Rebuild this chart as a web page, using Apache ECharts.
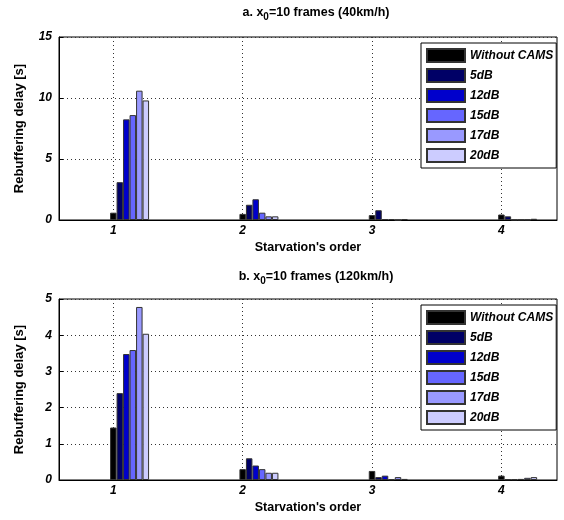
<!DOCTYPE html>
<html><head><meta charset="utf-8">
<script src="https://cdn.jsdelivr.net/npm/echarts@6/dist/echarts.min.js"></script>
<style>html,body{margin:0;padding:0;background:#fff}#c{width:564px;height:520px}</style>
</head><body><div id="c"></div>
<script>
// Starvation's order (x categories)
const orders = [1, 2, 3, 4];
const tickLabels = ['1', '2', '3', '4'];
const seriesNames = ['Without CAMS', '5dB', '12dB', '15dB', '17dB', '20dB'];

// a. x0=10 frames (40km/h)
const noCams40 = [0.6, 0.5, 0.4, 0.45];
const db5_40   = [3.1, 1.25, 0.8, 0.3];
const db12_40  = [8.25, 1.7, 0.08, 0.02];
const db15_40  = [8.6, 0.6, 0.08, 0.02];
const db17_40  = [10.6, 0.3, 0.0, 0.02];
const db20_40  = [9.8, 0.3, 0.08, 0.1];

// b. x0=10 frames (120km/h)
const noCams120 = [1.45, 0.3, 0.25, 0.12];
const db5_120   = [2.4, 0.6, 0.08, 0.02];
const db12_120  = [3.48, 0.4, 0.12, 0.02];
const db15_120  = [3.59, 0.3, 0.02, 0.03];
const db17_120  = [4.78, 0.2, 0.08, 0.06];
const db20_120  = [4.04, 0.2, 0.03, 0.08];

const colors = ['#000000', '#000066', '#0000cc', '#6666ff', '#9999ff', '#ccccff'];
const FONT = 'Liberation Sans, Arial, Helvetica, sans-serif';

const panels = [
  { title: '{t|a. x}{s|0}{t|=10 frames (40km/h)}', data: [noCams40, db5_40, db12_40, db15_40, db17_40, db20_40], ymax: 15, yint: 5 },
  { title: '{t|b. x}{s|0}{t|=10 frames (120km/h)}', data: [noCams120, db5_120, db12_120, db15_120, db17_120, db20_120], ymax: 5, yint: 1 }
];
const grids = [
  { left: 59, top: 37, width: 498, height: 183 },
  { left: 59, top: 299, width: 498, height: 181 }
];

const option = {
  animation: false,
  backgroundColor: '#fff',
  textStyle: { fontFamily: FONT },
  title: panels.map((p, i) => ({
    text: p.title,
    left: 311, textAlign: 'center',
    top: i === 0 ? -1 : 263,
    textStyle: {
      rich: {
        t: { fontSize: 12.5, fontWeight: 'bold', fontFamily: FONT, color: '#000' },
        s: { fontSize: 10, fontWeight: 'bold', fontFamily: FONT, color: '#000', padding: [8, 0, 0, 0] }
      }
    }
  })),
  grid: grids.map(g => Object.assign({ show: true, borderColor: '#000', borderWidth: 1, backgroundColor: '#fff' }, g)),
  legend: grids.map(g => ({
    data: seriesNames,
    orient: 'vertical',
    icon: 'rect',
    left: 421, top: g.top + 6,
    itemWidth: 38, itemHeight: 13, itemGap: 5,
    padding: [5, 3, 5, 5],
    borderColor: '#000', borderWidth: 1, backgroundColor: '#fff',
    selectedMode: false,
    textStyle: { fontSize: 12, fontWeight: 'bold', fontStyle: 'italic', color: '#000', fontFamily: FONT }
  })),
  xAxis: grids.map((g, i) => ({
    type: 'value', gridIndex: i, min: 0.58, max: 4.43,
    name: "Starvation's order", nameLocation: 'middle', nameGap: 21,
    nameTextStyle: { fontSize: 12.5, fontWeight: 'bold', color: '#000', fontFamily: FONT },
    axisLine: { show: true, lineStyle: { color: '#000', width: 1 } },
    axisTick: { show: true, inside: true, length: 4, customValues: orders, lineStyle: { color: '#000' } },
    axisLabel: { customValues: orders, formatter: v => tickLabels[orders.indexOf(v)] || '', fontSize: 12, fontWeight: 'bold', fontStyle: 'italic', color: '#000', margin: 5, fontFamily: FONT },
    splitLine: { show: true, lineStyle: { type: [1, 3], color: '#333', width: 1 } }
  })),
  yAxis: panels.map((p, i) => ({
    type: 'value', gridIndex: i, min: 0, max: p.ymax, interval: p.yint,
    name: 'Rebuffering delay [s]', nameLocation: 'middle', nameGap: 33,
    nameTextStyle: { fontSize: 13, fontWeight: 'bold', color: '#000', fontFamily: FONT },
    axisLine: { show: true, lineStyle: { color: '#000', width: 1 } },
    axisTick: { show: true, inside: true, length: 4, lineStyle: { color: '#000' } },
    axisLabel: { fontSize: 12, fontWeight: 'bold', fontStyle: 'italic', color: '#000', margin: 7, fontFamily: FONT },
    splitLine: { show: true, lineStyle: { type: [1, 3], color: '#333', width: 1 } }
  })),
  series: []
};

panels.forEach((p, gi) => {
  // invisible spacer so each group starts at its tick
  option.series.push({
    type: 'bar', name: '_pad' + gi, xAxisIndex: gi, yAxisIndex: gi,
    barWidth: 32.5, barGap: 0, data: [], silent: true
  });
  seriesNames.forEach((name, si) => {
    option.series.push({
      type: 'bar', name: name, xAxisIndex: gi, yAxisIndex: gi,
      barWidth: 6.5, barGap: 0,
      itemStyle: { color: colors[si], borderColor: '#333', borderWidth: 1 },
      data: orders.map((o, k) => [o, p.data[si][k]])
    });
  });
});

const chart = echarts.init(document.getElementById('c'), null, { renderer: 'canvas' });
chart.setOption(option);
</script>
</body></html>
